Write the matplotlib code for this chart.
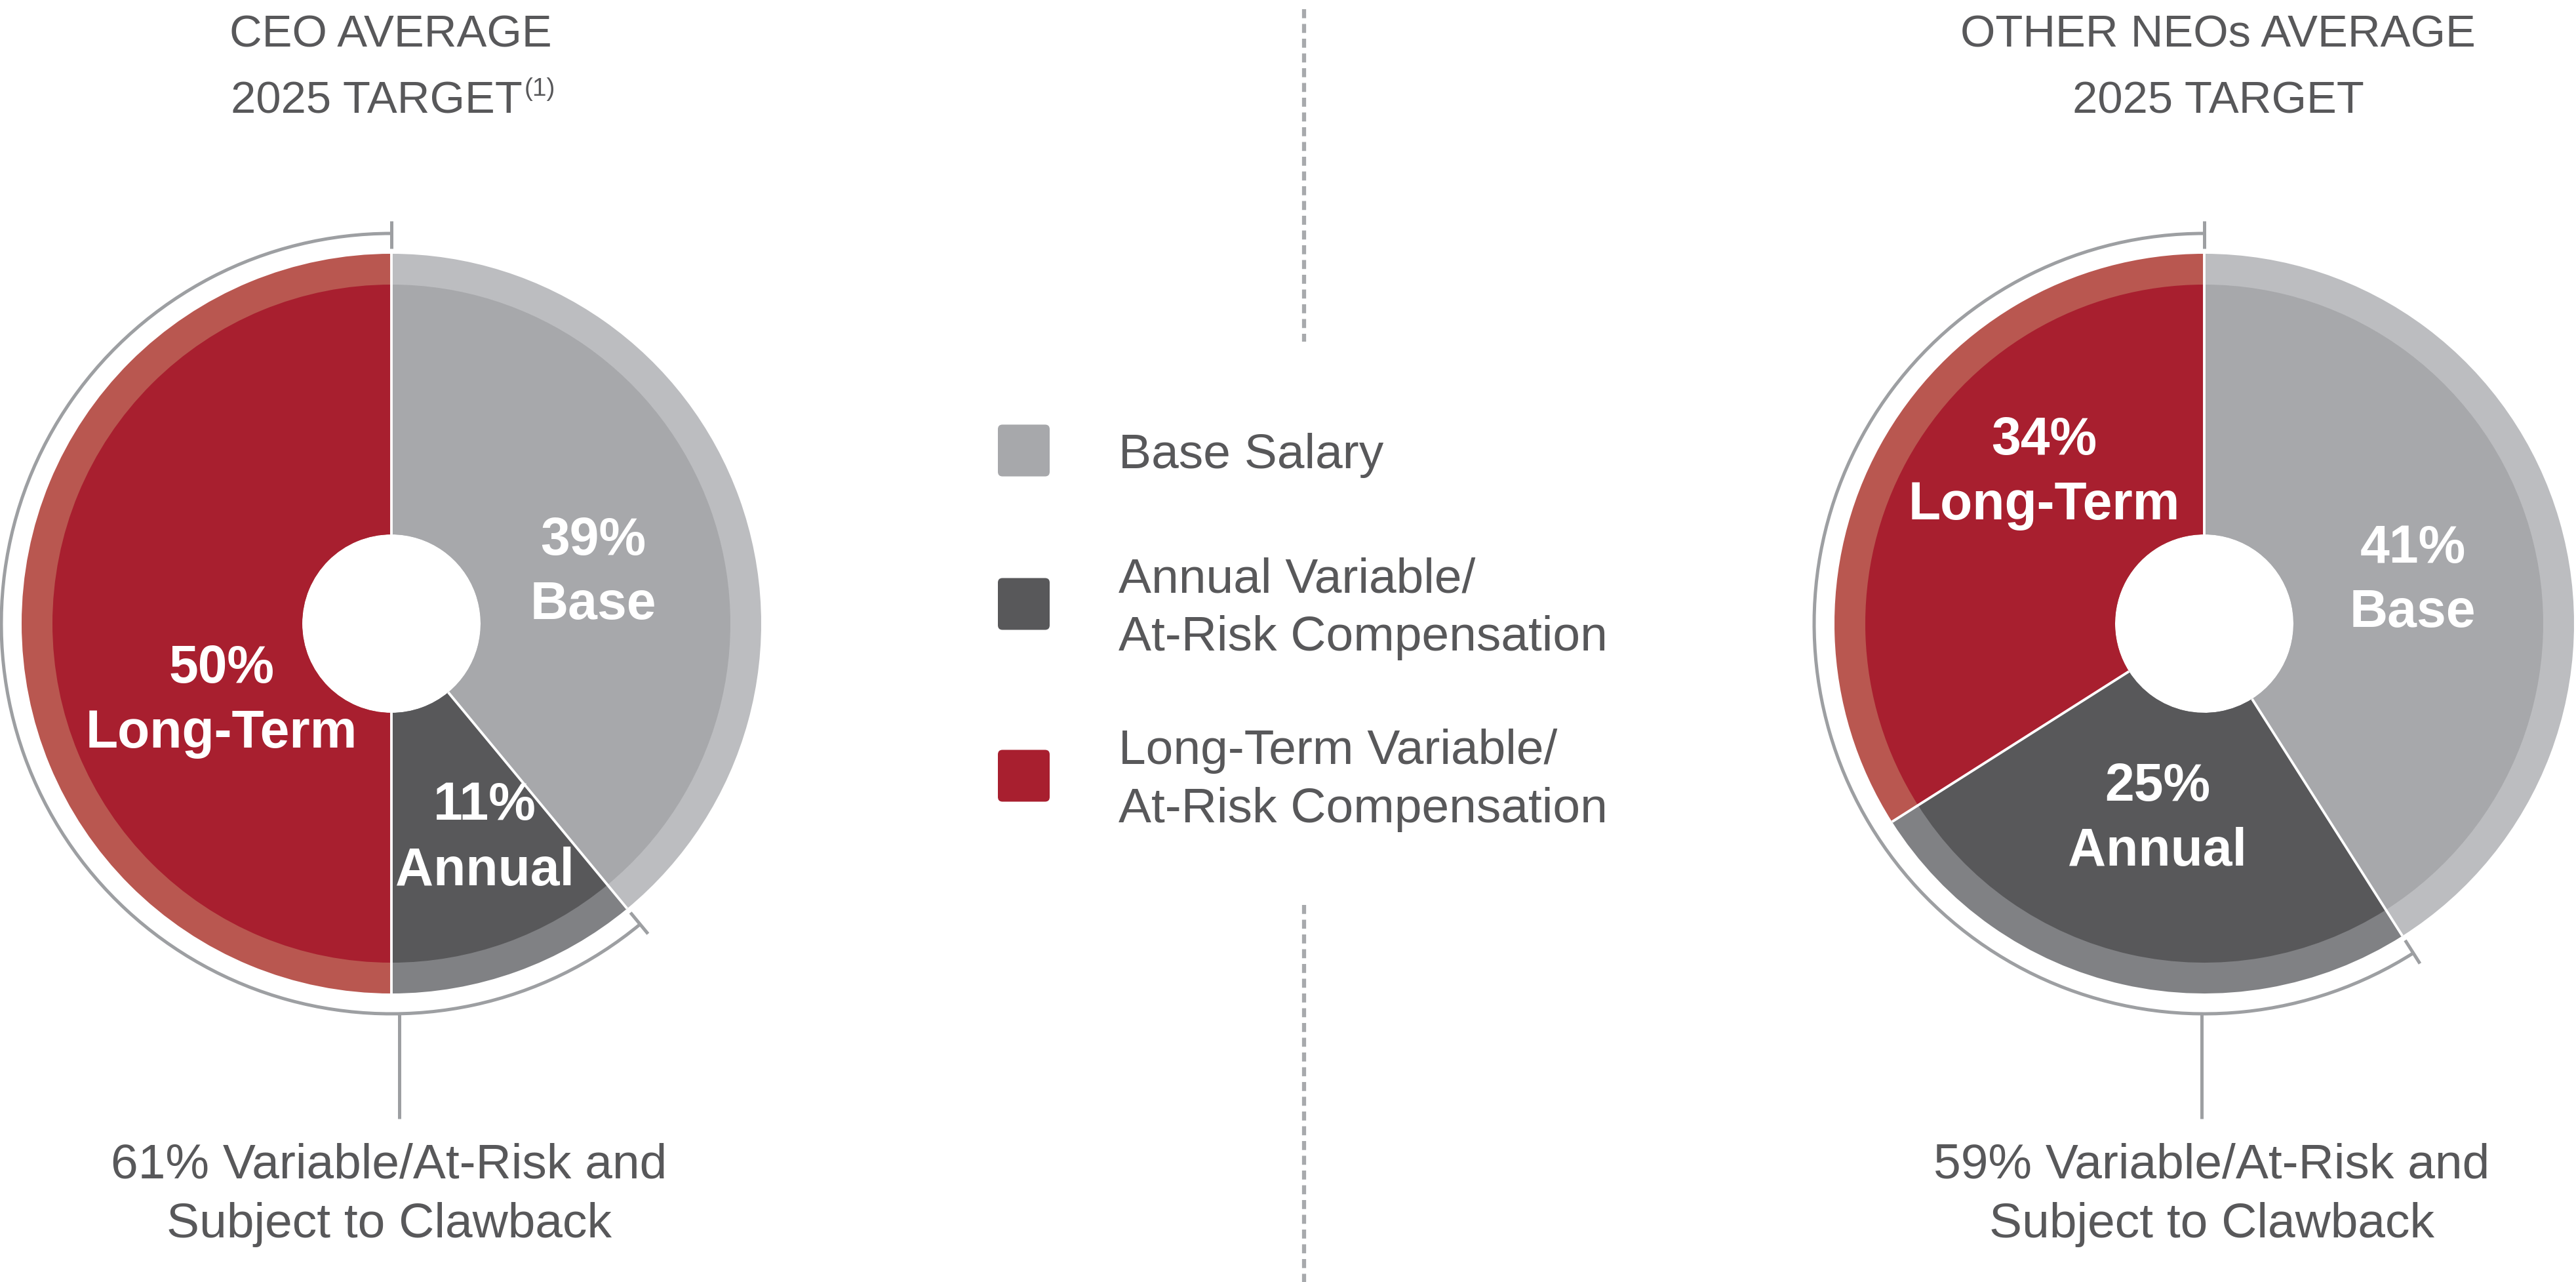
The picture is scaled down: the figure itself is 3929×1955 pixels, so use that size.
import matplotlib
matplotlib.use("Agg")
import matplotlib.pyplot as plt
import numpy as np
from matplotlib import font_manager
from matplotlib.patches import Arc, FancyBboxPatch

W, H = 3929, 1956

# data
components = [
    "Base Salary",
    "Annual Variable/\nAt-Risk Compensation",
    "Long-Term Variable/\nAt-Risk Compensation",
]
short_names = ["Base", "Annual", "Long-Term"]
ceo_pct = [39, 11, 50]
neo_pct = [41, 25, 34]
titles = [["CEO AVERAGE", "2025 TARGET"], ["OTHER NEOs AVERAGE", "2025 TARGET"]]
title_notes = ["(1)", ""]

inner_colors = ["#A7A8AB", "#58585A", "#A81F2F"]
band_colors = ["#BCBDC0", "#808184", "#B95750"]
TEXT = "#58585A"
BRACKET = "#9D9FA2"

R_OUT, R_IN, R_HOLE, R_BR = 564, 517, 136, 595

plt.rcParams["font.family"] = ["Liberation Sans", "DejaVu Sans"]
names = {f.name for f in font_manager.fontManager.ttflist}
narrow = "Liberation Sans Narrow" in names
title_family = ["Liberation Sans Narrow", "DejaVu Sans"] if narrow else ["Liberation Sans", "DejaVu Sans"]
title_size = 59 if narrow else 49.5
note_size = 32 if narrow else 28

fig = plt.figure(figsize=(W / 100, H / 100), dpi=100)
ax = fig.add_axes([0, 0, 1, 1])


def put(x, y, s, **kw):
    # y measured from the top of the image
    ax.text(x, H - y, s, **kw)


def draw_pie(cx, cy, values, label_pos, line_x):
    c = (cx, H - cy)
    total = sum(values)
    ax.pie(values, radius=R_OUT, center=c, startangle=90, counterclock=False,
           colors=band_colors, wedgeprops=dict(width=R_OUT - R_HOLE, linewidth=0), frame=True)
    ax.pie(values, radius=R_IN, center=c, startangle=90, counterclock=False,
           colors=inner_colors, wedgeprops=dict(width=R_IN - R_HOLE, linewidth=0), frame=True)

    bounds = 90 - 360 * np.cumsum([0] + values[:-1]) / total
    for a in bounds:
        t = np.radians(a)
        ax.plot([cx + R_HOLE * np.cos(t), cx + R_OUT * np.cos(t)],
                [c[1] + R_HOLE * np.sin(t), c[1] + R_OUT * np.sin(t)],
                color="white", lw=2.8, solid_capstyle="butt")

    # bracket around the variable / at-risk part
    end = 90 - 360 * values[0] / total
    ax.add_patch(Arc(c, 2 * R_BR, 2 * R_BR, theta1=90, theta2=360 + end,
                     color=BRACKET, lw=3.6))
    for a in (90, end):
        t = np.radians(a)
        ax.plot([cx + 572 * np.cos(t), cx + 614 * np.cos(t)],
                [c[1] + 572 * np.sin(t), c[1] + 614 * np.sin(t)],
                color=BRACKET, lw=3.6, solid_capstyle="butt")
    ax.plot([line_x, line_x], [c[1] - R_BR + 1, H - 1707], color=BRACKET, lw=3.6,
            solid_capstyle="butt")

    for v, name, (lx, b1, b2) in zip(values, short_names, label_pos):
        put(lx, b1, f"{v}%", ha="center", va="baseline", color="white",
            fontsize=58, fontweight="bold")
        put(lx, b2, name, ha="center", va="baseline", color="white",
            fontsize=58, fontweight="bold")


# CEO pie
draw_pie(597, 952, ceo_pct,
         [(905, 846, 944), (739, 1250, 1350), (338, 1041, 1140)], 609)
# other NEOs pie
draw_pie(3362, 952, neo_pct,
         [(3680, 858, 956), (3291, 1221, 1320), (3118, 693, 792)], 3358)

# titles
put(596, 72, titles[0][0], ha="center", va="baseline", color=TEXT,
    fontsize=title_size, family=title_family)
put(797, 173, titles[0][1], ha="right", va="baseline", color=TEXT,
    fontsize=title_size, family=title_family)
put(800, 146, title_notes[0], ha="left", va="baseline", color=TEXT,
    fontsize=note_size, family=title_family)
put(3383, 72, titles[1][0], ha="center", va="baseline", color=TEXT,
    fontsize=title_size, family=title_family)
put(3383, 173, titles[1][1], ha="center", va="baseline", color=TEXT,
    fontsize=title_size, family=title_family)

# footnotes under each pie
for fx, values in ((593, ceo_pct), (3373, neo_pct)):
    at_risk = sum(values[1:])
    put(fx, 1797, f"{at_risk}% Variable/At-Risk and", ha="center", va="baseline",
        color=TEXT, fontsize=54)
    put(fx, 1887, "Subject to Clawback", ha="center", va="baseline",
        color=TEXT, fontsize=54)

# divider
for y0, y1 in ((15, 522), (1381, 1956)):
    ax.plot([1989, 1989], [H - y0, H - y1], color="#A7A9AC", lw=4.5,
            linestyle=(0, (2.2, 1.4)))

# legend
for color, label, yc in zip(inner_colors, components, (688, 922, 1184)):
    ax.add_patch(FancyBboxPatch((1522, H - yc - 39.5), 79, 79,
                                boxstyle="round,pad=0,rounding_size=7",
                                facecolor=color, edgecolor="none"))
    lines = label.split("\n")
    for i, line in enumerate(lines):
        base = yc + 26 - (len(lines) - 1) * 89 / 2 + i * 89
        put(1706, base, line, ha="left", va="baseline", color=TEXT, fontsize=54)

ax.set_xlim(0, W)
ax.set_ylim(0, H)
ax.set_aspect("equal")
ax.axis("off")
fig.savefig("out.png", dpi=100, facecolor="white")
